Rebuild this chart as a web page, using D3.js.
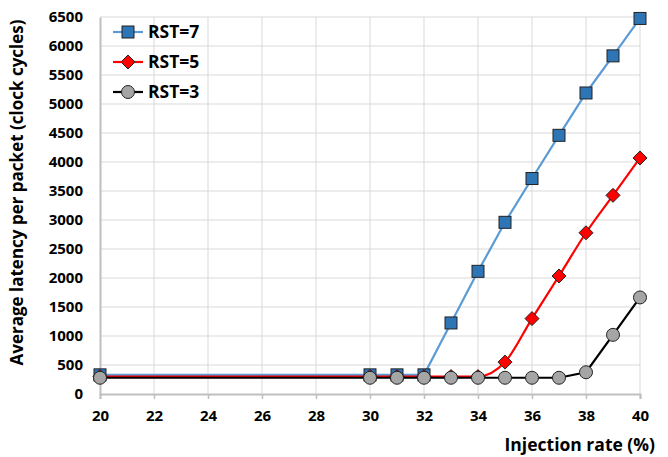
<!DOCTYPE html>
<html>
<head>
<meta charset="utf-8">
<script src="https://cdn.jsdelivr.net/npm/d3@7"></script>
<style>
  body { margin: 0; background: #fff; }
  text { font-family: "Open Sans", Lato, sans-serif; font-weight: bold; fill: #000; }
</style>
</head>
<body>
<svg id="chart" width="668" height="457"></svg>
<script>
// injection rate (%)
const rates = [20, 30, 31, 32, 33, 34, 35, 36, 37, 38, 39, 40];
// average latency per packet (clock cycles)
const rst7 = [330, 330, 330, 330, 1225, 2115, 2960, 3715, 4460, 5190, 5830, 6475];
const rst5 = [300, 300, 300, 300, 300, 300, 550, 1300, 2035, 2780, 3425, 4070];
const rst3 = [280, 280, 280, 280, 280, 280, 280, 280, 280, 375, 1020, 1665];
const xTicks = [20, 22, 24, 26, 28, 30, 32, 34, 36, 38, 40];
const yTicks = d3.range(0, 6501, 500);

const series = [
    {name: 'RST=7', values: rst7, line: '#5b9bd5', fill: '#2e75b6', marker: 'square', curve: d3.curveLinear},
    {name: 'RST=5', values: rst5, line: '#ff0000', fill: '#ff0000', marker: 'diamond', curve: d3.curveMonotoneX},
    {name: 'RST=3', values: rst3, line: '#000000', fill: '#a5a5a5', marker: 'circle', curve: d3.curveLinear},
];

const margin = {top: 17, right: 28, bottom: 63, left: 100},
    width = 668 - margin.left - margin.right,
    height = 457 - margin.top - margin.bottom;

const svg = d3.select('#chart')
  .append('g')
    .attr('transform', `translate(${margin.left}, ${margin.top})`);

const x = d3.scaleLinear().domain([20, 40]).range([0, width]);
const y = d3.scaleLinear().domain([0, 6500]).range([height, 0]);

// gridlines
svg.append('g')
  .selectAll('line')
  .data(yTicks.slice(1))
  .join('line')
    .attr('x1', 0).attr('x2', width)
    .attr('y1', d => y(d)).attr('y2', d => y(d))
    .attr('stroke', '#d9d9d9').attr('stroke-width', 1);
svg.append('g')
  .selectAll('line')
  .data(xTicks.slice(1))
  .join('line')
    .attr('x1', d => x(d)).attr('x2', d => x(d))
    .attr('y1', 0).attr('y2', height)
    .attr('stroke', '#d9d9d9').attr('stroke-width', 1);

// axes
const xAxis = svg.append('g')
    .attr('transform', `translate(0, ${height})`)
    .call(d3.axisBottom(x).tickValues(xTicks).tickSize(5).tickPadding(11));
const yAxis = svg.append('g')
    .call(d3.axisLeft(y).tickValues(yTicks).tickFormat(d3.format('d')).tickSize(0).tickPadding(17));
[xAxis, yAxis].forEach(a => {
    a.select('.domain').attr('stroke', '#bfbfbf').attr('stroke-width', 2);
    a.selectAll('.tick line').attr('stroke', '#bfbfbf').attr('stroke-width', 1.5);
    a.selectAll('text').style('font-size', '15px').style('font-family', '"Open Sans", Lato, sans-serif').style('font-weight', 'bold');
});

function drawMarker(sel, type, fill) {
    if (type === 'square') {
        sel.append('rect').attr('x', -6).attr('y', -6).attr('width', 12).attr('height', 12)
            .attr('fill', fill).attr('stroke', '#222').attr('stroke-width', 1);
    } else if (type === 'diamond') {
        sel.append('path').attr('d', 'M0,-7L7,0L0,7L-7,0Z')
            .attr('fill', fill).attr('stroke', '#222').attr('stroke-width', 1);
    } else {
        sel.append('circle').attr('r', 6.5)
            .attr('fill', fill).attr('stroke', '#222').attr('stroke-width', 1);
    }
}

// lines and markers, drawn back to front
series.forEach(s => {
    const line = d3.line()
        .x((d, i) => x(rates[i]))
        .y(d => y(d))
        .curve(s.curve);
    svg.append('path')
        .datum(s.values)
        .attr('d', line)
        .attr('fill', 'none')
        .attr('stroke', s.line)
        .attr('stroke-width', 2.2);
    svg.append('g')
      .selectAll('g')
      .data(s.values)
      .join('g')
        .attr('transform', (d, i) => `translate(${x(rates[i])}, ${y(d)})`)
        .each(function() { drawMarker(d3.select(this), s.marker, s.fill); });
});

// legend
const legend = svg.append('g').attr('transform', 'translate(13, 15)');
series.forEach((s, i) => {
    const row = legend.append('g').attr('transform', `translate(0, ${i * 30})`);
    row.append('line').attr('x1', 0).attr('x2', 30).attr('y1', 0).attr('y2', 0)
        .attr('stroke', s.line).attr('stroke-width', 2.2);
    drawMarker(row.append('g').attr('transform', 'translate(15, 0)'), s.marker, s.fill);
    row.append('text').attr('x', 35).attr('y', 0).attr('dy', '0.35em')
        .style('font-size', '17.5px').text(s.name);
});

// axis titles
svg.append('text')
    .attr('transform', `translate(${-77}, ${height / 2 - 13}) rotate(-90)`)
    .attr('text-anchor', 'middle')
    .style('font-size', '17px')
    .text('Average latency per packet (clock cycles)');
svg.append('text')
    .attr('x', width + 15).attr('y', height + 57)
    .attr('text-anchor', 'end')
    .style('font-size', '17.5px')
    .text('Injection rate (%)');
</script>
</body>
</html>
